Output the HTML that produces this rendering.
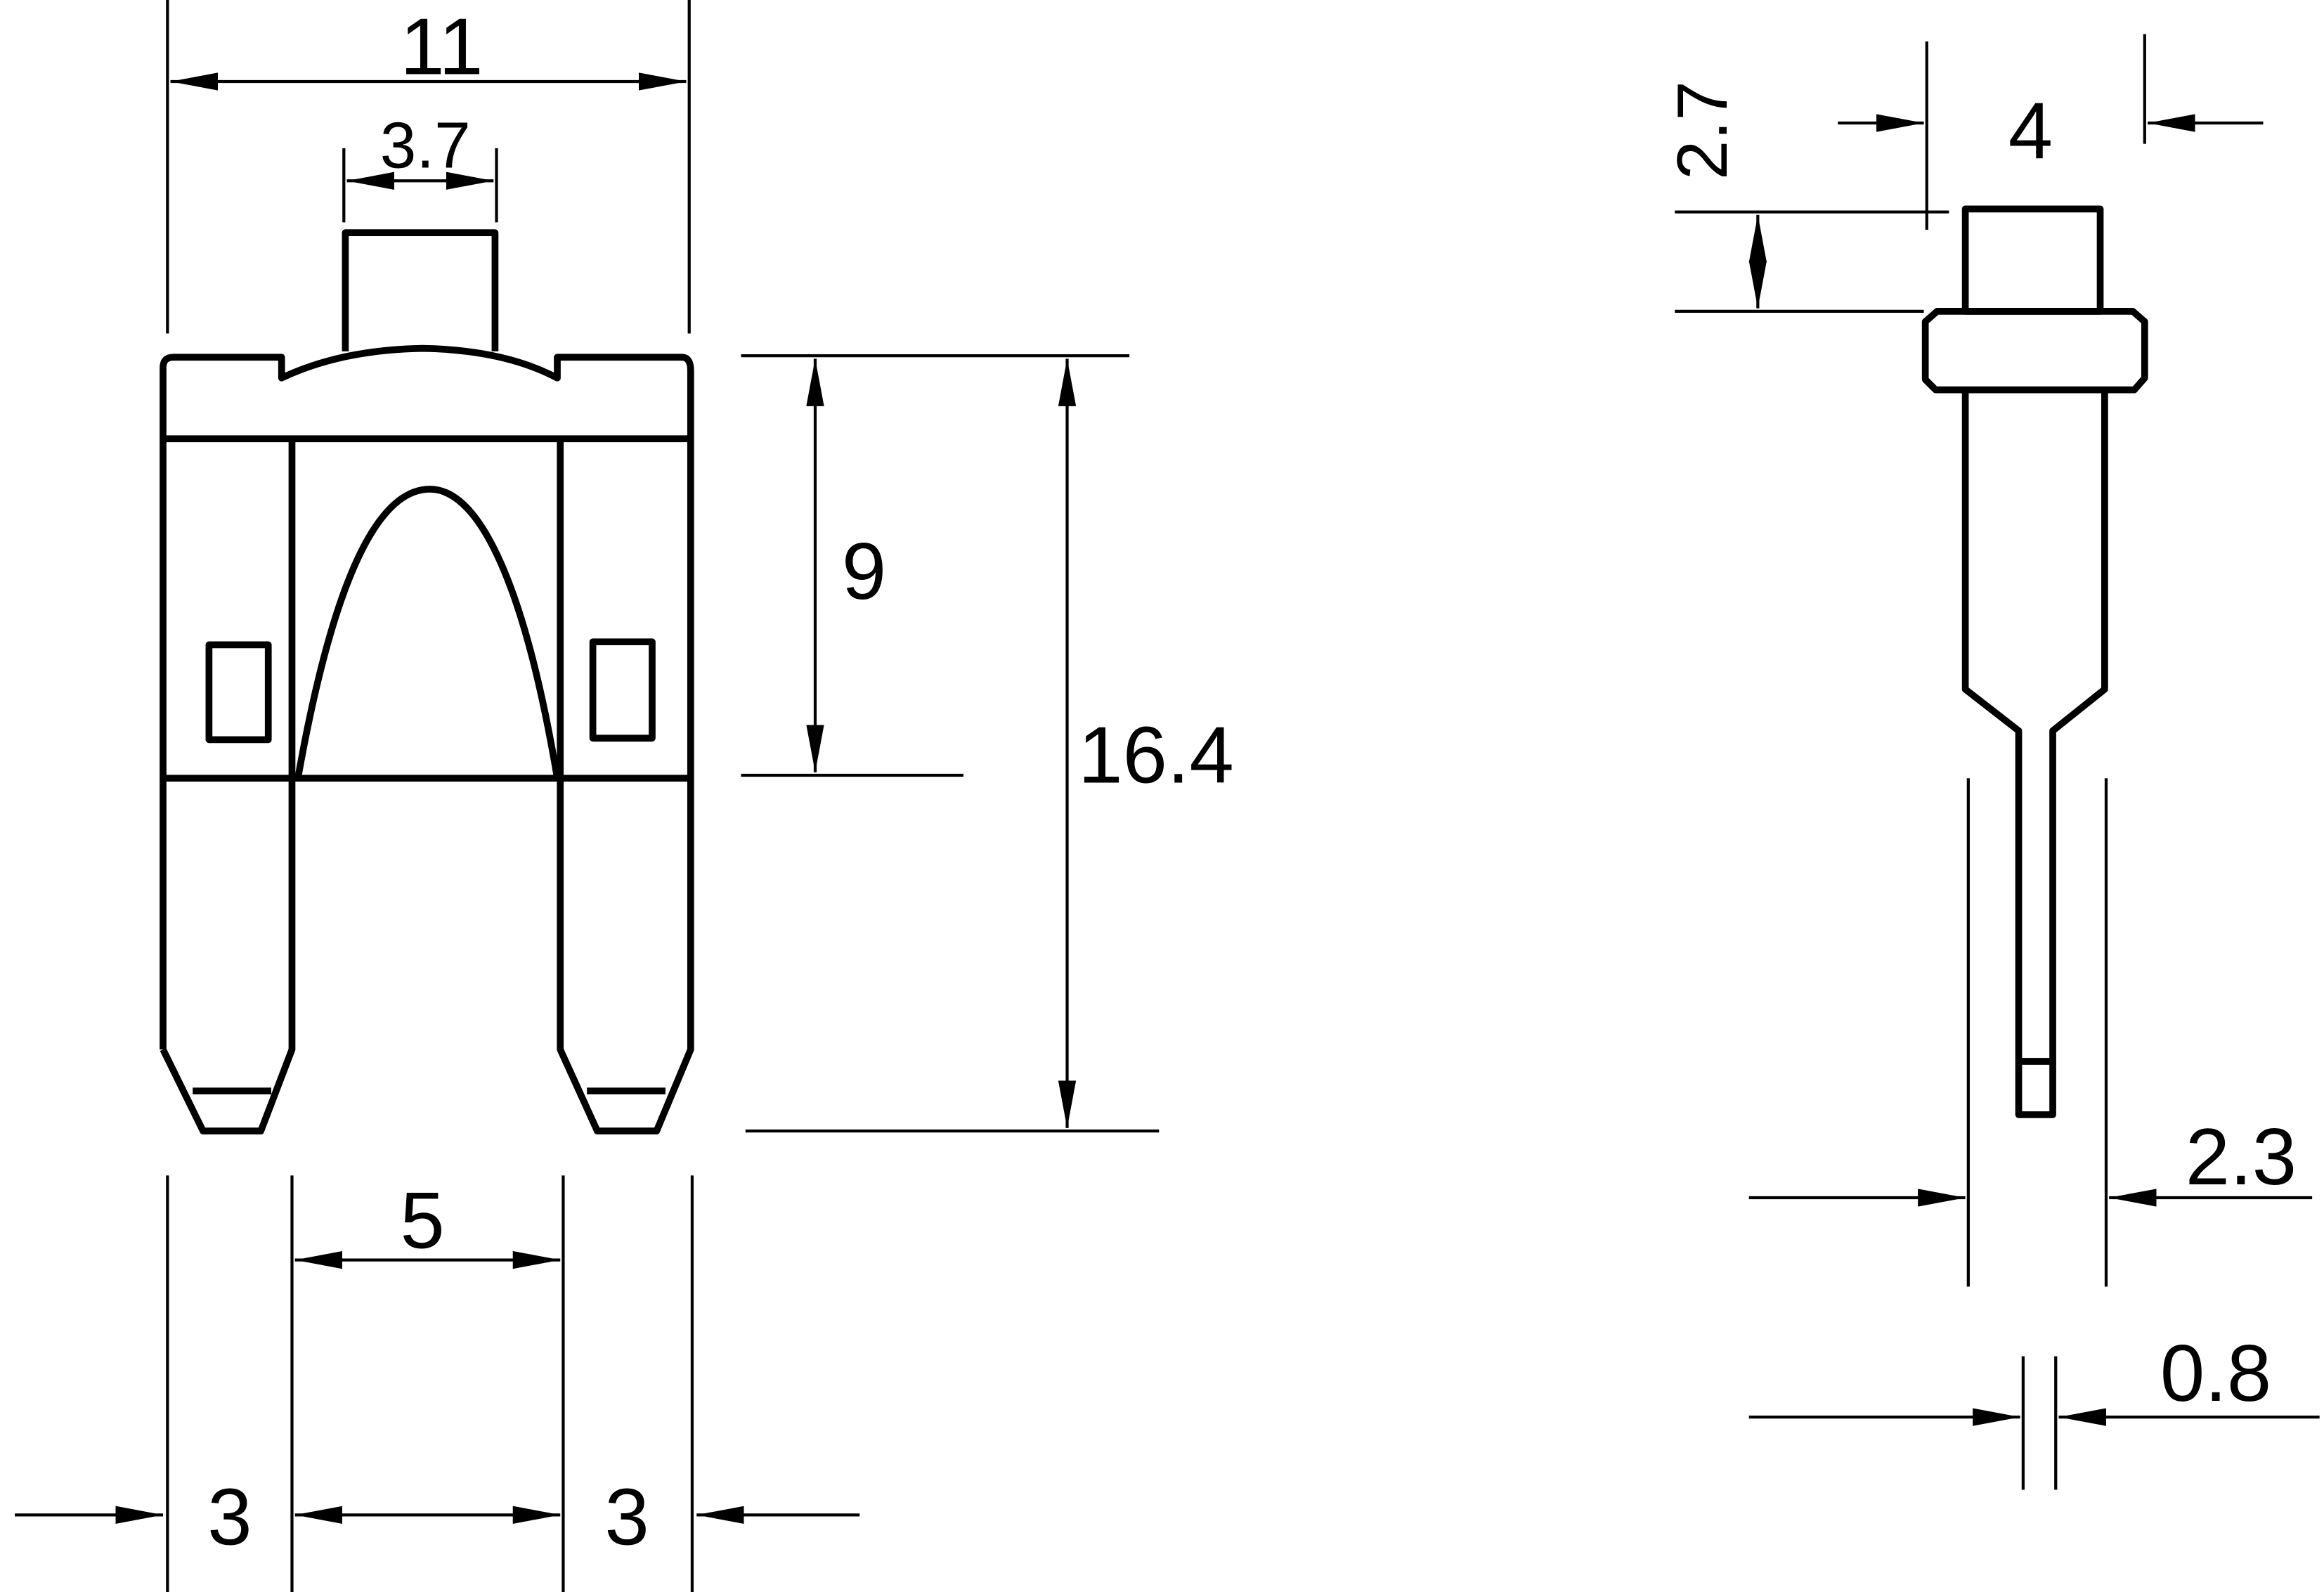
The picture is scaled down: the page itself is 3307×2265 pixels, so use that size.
<!DOCTYPE html>
<html><head><meta charset="utf-8"><style>
html,body{margin:0;padding:0;background:#fff;}
svg{display:block;}
text{font-family:"Liberation Sans",sans-serif;fill:#000;}
</style></head><body>
<svg width="3307" height="2265" viewBox="0 0 1568 1074" preserveAspectRatio="none" xmlns="http://www.w3.org/2000/svg">
<defs>
<marker id="a" viewBox="0 0 32 12" refX="32" refY="6" markerWidth="32" markerHeight="12" markerUnits="userSpaceOnUse" orient="auto-start-reverse">
<path d="M0,0 L32,6 L0,12 Z" fill="#000"/></marker>
</defs>
<g fill="none" stroke="#000" stroke-width="4.6" stroke-linejoin="round">
<path d="M110,708 L110,248 Q110,241 117,241 L190,241 L190,255 Q230,236 285,235 Q340,236 376,255 L376,241 L460,241 Q466,241 466,250 L466,708 L443,763 L403,763 L378,708 L378,296 M197,296 L197,708 L176,763 L137,763 L110,708"/>
<line x1="110" y1="296" x2="466" y2="296"/>
<line x1="110" y1="525" x2="466" y2="525"/>
<line x1="130" y1="736" x2="183" y2="736"/>
<line x1="396" y1="736" x2="449" y2="736"/>
<path d="M201,525 C225,390 255,330 290,330 C325,330 355,400 376,525"/>
<rect x="141" y="435" width="40" height="64"/>
<rect x="400" y="433" width="40" height="65"/>
<path d="M233,237 L233,157 L334,157 L334,237"/>
<rect x="1326" y="141" width="91" height="69"/>
<path d="M1307,210 L1439,210 L1447,217 L1447,255 L1440,263 L1306,263 L1299,256 L1299,217 Z"/>
<path d="M1326,263 L1326,465 L1362,493 L1362,752 L1385,752 L1385,493 L1420,465 L1420,263"/>
<line x1="1362" y1="716" x2="1385" y2="716"/>
</g>
<g fill="none" stroke="#000" stroke-width="2">
<line x1="113" y1="0" x2="113" y2="225"/>
<line x1="465" y1="0" x2="465" y2="225"/>
<line x1="115" y1="55" x2="463" y2="55" marker-start="url(#a)" marker-end="url(#a)"/>
<line x1="232" y1="100" x2="232" y2="150"/>
<line x1="335" y1="100" x2="335" y2="150"/>
<line x1="234" y1="122" x2="333" y2="122" marker-start="url(#a)" marker-end="url(#a)"/>
<line x1="500" y1="240" x2="762" y2="240"/>
<line x1="500" y1="523" x2="650" y2="523"/>
<line x1="503" y1="763" x2="782" y2="763"/>
<line x1="550" y1="242" x2="550" y2="521" marker-start="url(#a)" marker-end="url(#a)"/>
<line x1="720" y1="242" x2="720" y2="761" marker-start="url(#a)" marker-end="url(#a)"/>
<line x1="113" y1="793" x2="113" y2="1074"/>
<line x1="197" y1="793" x2="197" y2="1074"/>
<line x1="380" y1="793" x2="380" y2="1074"/>
<line x1="467" y1="793" x2="467" y2="1074"/>
<line x1="199" y1="850" x2="378" y2="850" marker-start="url(#a)" marker-end="url(#a)"/>
<line x1="199" y1="1022" x2="378" y2="1022" marker-start="url(#a)" marker-end="url(#a)"/>
<line x1="10" y1="1022" x2="110" y2="1022" marker-end="url(#a)"/>
<line x1="580" y1="1022" x2="470" y2="1022" marker-end="url(#a)"/>
<line x1="1300" y1="28" x2="1300" y2="155"/>
<line x1="1447" y1="23" x2="1447" y2="97"/>
<line x1="1240" y1="83" x2="1298" y2="83" marker-end="url(#a)"/>
<line x1="1527" y1="83" x2="1449" y2="83" marker-end="url(#a)"/>
<line x1="1130" y1="143" x2="1315" y2="143"/>
<line x1="1130" y1="210" x2="1298" y2="210"/>
<line x1="1186" y1="145" x2="1186" y2="208" marker-start="url(#a)" marker-end="url(#a)"/>
<line x1="1328" y1="525" x2="1328" y2="868"/>
<line x1="1421" y1="525" x2="1421" y2="868"/>
<line x1="1180" y1="808" x2="1326" y2="808" marker-end="url(#a)"/>
<line x1="1560" y1="808" x2="1423" y2="808" marker-end="url(#a)"/>
<line x1="1365" y1="915" x2="1365" y2="1005"/>
<line x1="1387" y1="915" x2="1387" y2="1005"/>
<line x1="1180" y1="956" x2="1363" y2="956" marker-end="url(#a)"/>
<line x1="1565" y1="956" x2="1389" y2="956" marker-end="url(#a)"/>
</g>
<g font-size="54" text-anchor="middle">
<text x="298" y="50">11</text>
<text x="287" y="113" font-size="44">3.7</text>
<text x="583" y="404">9</text>
<text x="780" y="528">16.4</text>
<text x="285" y="842">5</text>
<text x="155" y="1042">3</text>
<text x="423" y="1042">3</text>
<text x="1370" y="107">4</text>
<text x="1512" y="799">2.3</text>
<text x="1495" y="945">0.8</text>
<text x="1180" y="103" transform="rotate(-90 1165 103)" font-size="48">2.7</text>
</g>
</svg>
</body></html>
